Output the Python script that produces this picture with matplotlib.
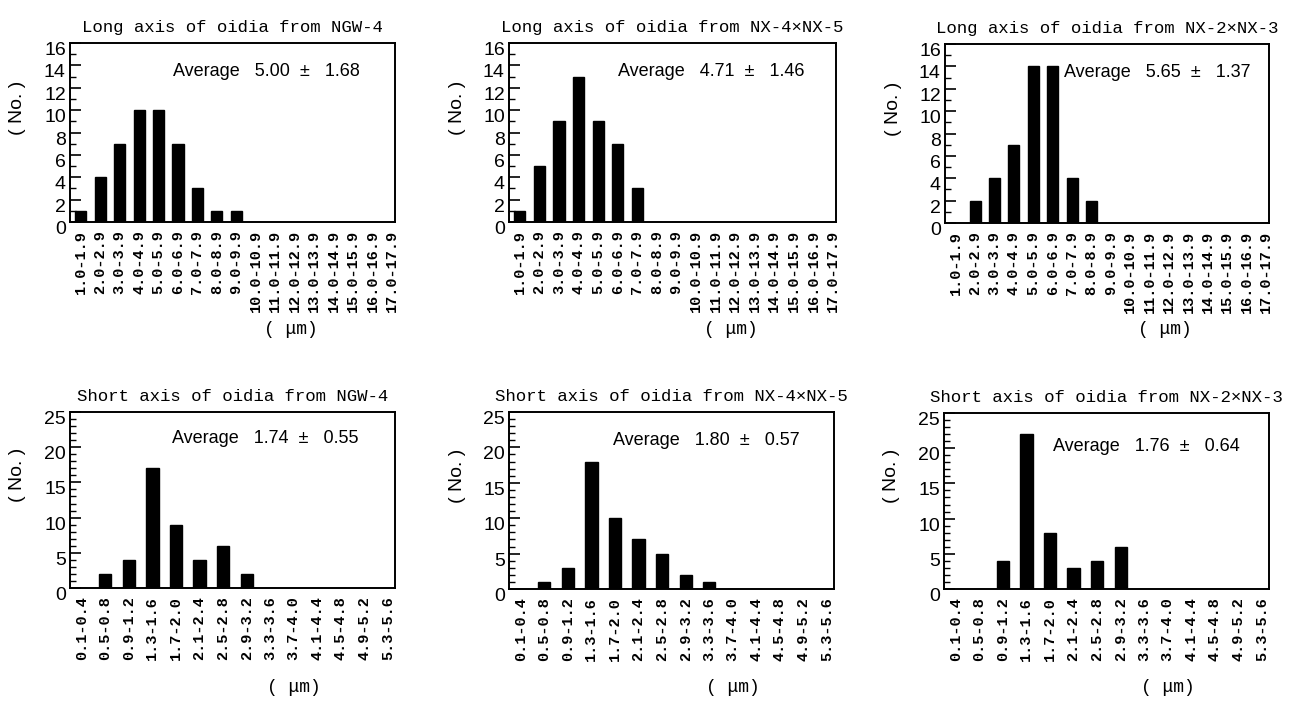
import matplotlib
matplotlib.use("Agg")
import matplotlib.pyplot as plt
import matplotlib.transforms as mtransforms
from matplotlib.ticker import MultipleLocator

# Class labels (um)
long_labels = ["1.0-1.9", "2.0-2.9", "3.0-3.9", "4.0-4.9", "5.0-5.9", "6.0-6.9",
               "7.0-7.9", "8.0-8.9", "9.0-9.9", "10.0-10.9", "11.0-11.9", "12.0-12.9",
               "13.0-13.9", "14.0-14.9", "15.0-15.9", "16.0-16.9", "17.0-17.9"]
short_labels = ["0.1-0.4", "0.5-0.8", "0.9-1.2", "1.3-1.6", "1.7-2.0", "2.1-2.4",
                "2.5-2.8", "2.9-3.2", "3.3-3.6", "3.7-4.0", "4.1-4.4", "4.5-4.8",
                "4.9-5.2", "5.3-5.6"]

# Counts per class
long_ngw4 = [1, 4, 7, 10, 10, 7, 3, 1, 1, 0, 0, 0, 0, 0, 0, 0, 0]
long_nx45 = [1, 5, 9, 13, 9, 7, 3, 0, 0, 0, 0, 0, 0, 0, 0, 0, 0]
long_nx23 = [0, 2, 4, 7, 14, 14, 4, 2, 0, 0, 0, 0, 0, 0, 0, 0, 0]
short_ngw4 = [0, 2, 4, 17, 9, 4, 6, 2, 0, 0, 0, 0, 0, 0]
short_nx45 = [0, 1, 3, 18, 10, 7, 5, 2, 1, 0, 0, 0, 0, 0]
short_nx23 = [0, 0, 4, 22, 8, 3, 4, 6, 0, 0, 0, 0, 0, 0]

strains = ["NGW-4", "NX-4×NX-5", "NX-2×NX-3"]
long_avg = ["5.00", "4.71", "5.65"]
long_sd = ["1.68", "1.46", "1.37"]
short_avg = ["1.74", "1.80", "1.76"]
short_sd = ["0.55", "0.57", "0.64"]

W, H = 1301, 702
fig = plt.figure(figsize=(W / 100, H / 100), dpi=100)

# axes boxes in pixels: left, top, right, bottom
top_boxes = [(70, 43, 395, 222), (509, 43, 836, 222), (945, 44, 1269, 223)]
bot_boxes = [(70, 412, 395, 588), (509, 412, 834, 589), (944, 413, 1269, 589)]
avg_pos_top = [(0.317, 0.84), (0.333, 0.84), (0.367, 0.84)]
avg_pos_bot = [(0.314, 0.85), (0.32, 0.84), (0.335, 0.81)]

mono = "Liberation Mono"
sans = "Liberation Sans"


def make_axes(box):
    l, t, r, b = box
    return fig.add_axes([l / W, 1 - b / H, (r - l) / W, (b - t) / H])


def draw_panel(box, counts, labels, title, avg, sd, avg_xy, ymax, major, minor, xlim, width):
    ax = make_axes(box)
    x = list(range(len(labels)))
    ax.bar(x, counts, width=width, color="black", edgecolor="black")
    ax.set_xlim(*xlim)
    ax.set_ylim(0, ymax)
    ax.yaxis.set_major_locator(MultipleLocator(major))
    ax.yaxis.set_minor_locator(MultipleLocator(minor))
    ax.tick_params(axis="y", which="major", direction="in", length=8, width=1.2,
                   labelsize=14, pad=3)
    ax.tick_params(axis="y", which="minor", direction="in", length=4, width=1.0)
    offset = mtransforms.ScaledTranslation(0, -4 / 72, fig.dpi_scale_trans)
    for lab in ax.get_yticklabels():
        lab.set_fontfamily(sans)
        lab.set_transform(lab.get_transform() + offset)
    ax.set_xticks(x)
    ax.set_xticklabels(labels, rotation=90, fontfamily=mono, fontsize=11,
                       fontweight="bold")
    ax.tick_params(axis="x", length=0, pad=6)
    for s in ax.spines.values():
        s.set_linewidth(1.4)
    ax.set_title(title, fontfamily=mono, fontsize=12.5, pad=8)
    ax.text(avg_xy[0], avg_xy[1], f"Average   {avg}  \u00b1   {sd}",
            transform=ax.transAxes, fontfamily=sans, fontsize=13, va="center", ha="left")
    l, t, r, b = box
    ax.text(-52 / (r - l), 0.64, "( No. )", transform=ax.transAxes, rotation=90,
            fontfamily=sans, fontsize=14, ha="center", va="center")
    return ax


for i in range(3):
    draw_panel(top_boxes[i], [long_ngw4, long_nx45, long_nx23][i], long_labels,
               "Long axis of oidia from " + strains[i], long_avg[i], long_sd[i],
               avg_pos_top[i], 16, 2, 1, (-0.55, 16.15), 0.57)
    draw_panel(bot_boxes[i], [short_ngw4, short_nx45, short_nx23][i], short_labels,
               "Short axis of oidia from " + strains[i], short_avg[i], short_sd[i],
               avg_pos_bot[i], 25, 5, 1, (-0.5, 13.3), 0.52)

# unit labels under each panel
for box in top_boxes:
    l, t, r, b = box
    fig.text((l + 0.68 * (r - l)) / W, 1 - 330 / H, "( μm)", fontfamily=mono,
             fontsize=13, ha="center", va="center")
for box in bot_boxes:
    l, t, r, b = box
    fig.text((l + 0.69 * (r - l)) / W, 1 - 688 / H, "( μm)", fontfamily=mono,
             fontsize=13, ha="center", va="center")

fig.savefig("out.png", dpi=100)
